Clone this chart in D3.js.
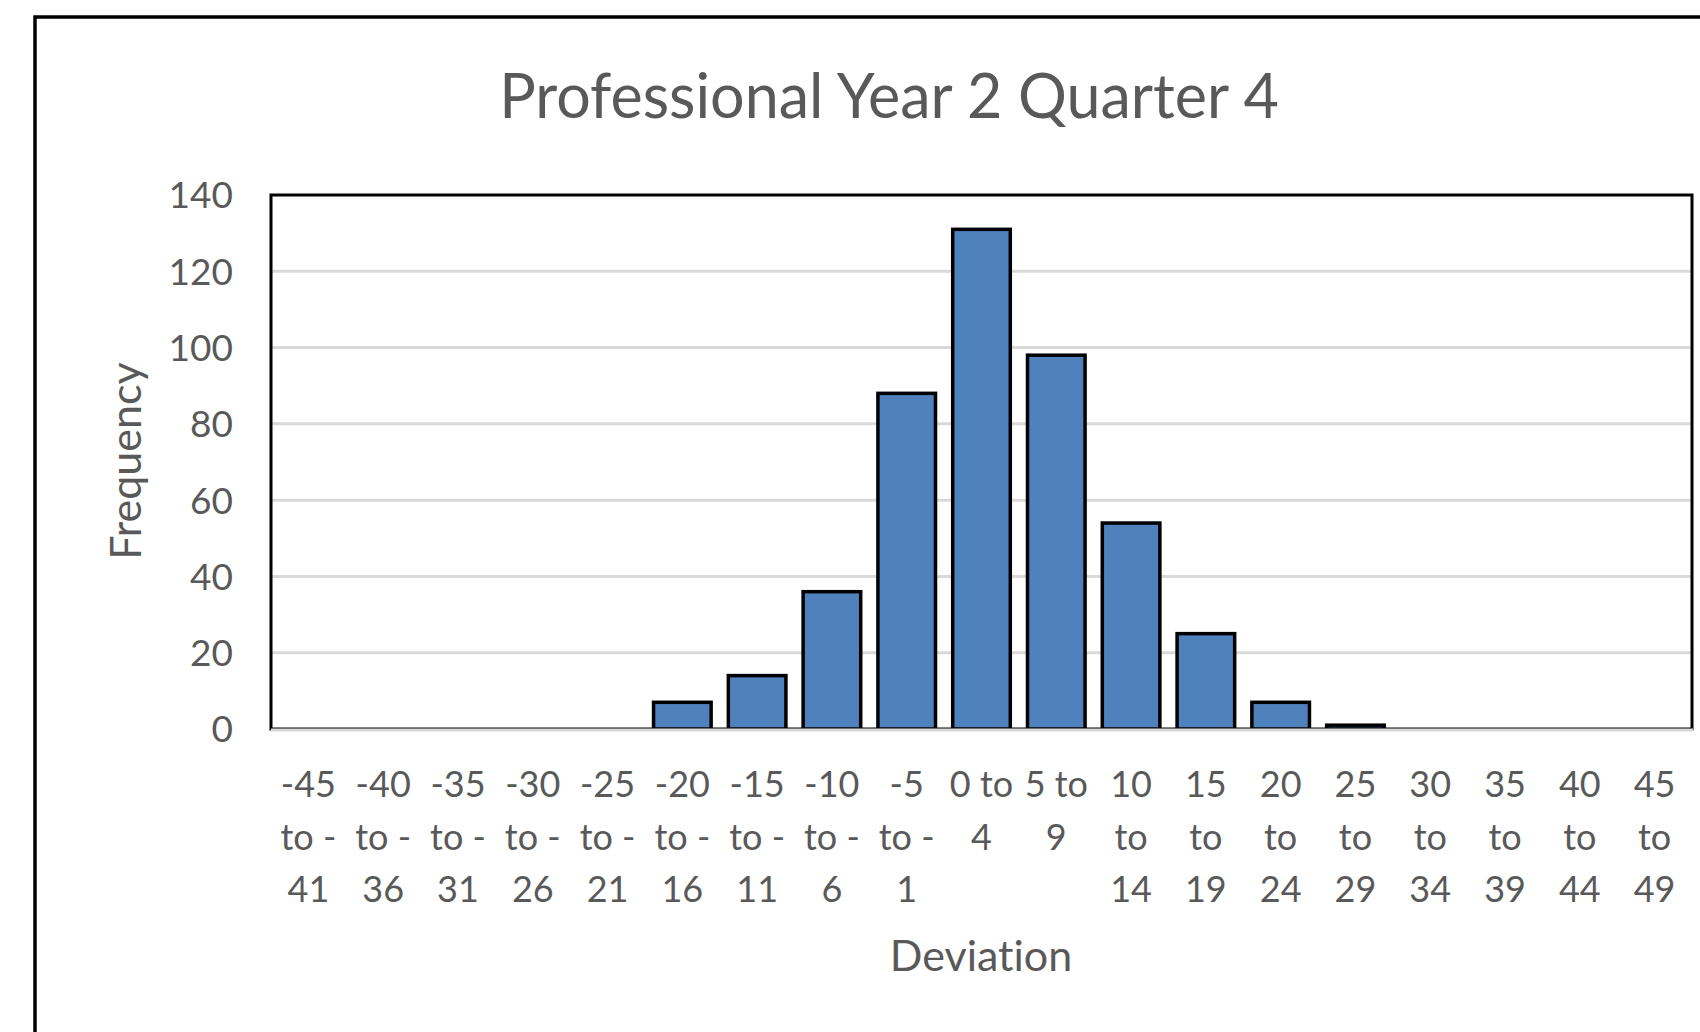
<!DOCTYPE html>
<html><head><meta charset="utf-8">
<script src="https://cdn.jsdelivr.net/npm/d3@7"></script>
<style>
html,body{margin:0;padding:0;background:#fff;overflow:hidden;}
svg{display:block;}
text{font-family:Lato,"Open Sans",sans-serif;fill:#595959;font-variant-ligatures:none;font-feature-settings:"liga" 0;}
</style></head>
<body>
<svg id="chart" width="1700" height="1032"></svg>
<script>
const categories = [
  ["-45","to -","41"],["-40","to -","36"],["-35","to -","31"],["-30","to -","26"],
  ["-25","to -","21"],["-20","to -","16"],["-15","to -","11"],["-10","to -","6"],
  ["-5","to -","1"],["0 to","4"],["5 to","9"],["10","to","14"],["15","to","19"],
  ["20","to","24"],["25","to","29"],["30","to","34"],["35","to","39"],["40","to","44"],["45","to","49"]
];
const frequency = [0,0,0,0,0,7,14,36,88,131,98,54,25,7,1,0,0,0,0];
const yTicks = [0,20,40,60,80,100,120,140];
const title = "Professional Year 2 Quarter 4";
const xTitle = "Deviation";
const yTitle = "Frequency";

const svg = d3.select("#chart");
const plot = {left:271, right:1692, top:195, bottom:729};

// outer chart border
svg.append("rect").attr("x",35).attr("y",17).attr("width",1700).attr("height",1100)
  .attr("fill","#fff").attr("stroke","#000").attr("stroke-width",3.5);

const keys = categories.map(c => c.join(" "));
const x = d3.scaleBand().domain(keys).range([plot.left, plot.right]).paddingInner(0.19).paddingOuter(0.095);
const y = d3.scaleLinear().domain([0,140]).range([plot.bottom, plot.top]);

// gridlines
svg.append("g").selectAll("line").data(yTicks.filter(t => t>0 && t<140)).join("line")
  .attr("x1",plot.left).attr("x2",plot.right)
  .attr("y1",d=>y(d)).attr("y2",d=>y(d))
  .attr("stroke","#D9D9D9").attr("stroke-width",3);

// plot area border
svg.append("rect").attr("x",plot.left).attr("y",plot.top)
  .attr("width",plot.right-plot.left).attr("height",plot.bottom-plot.top)
  .attr("fill","none").attr("stroke","#000").attr("stroke-width",3);

// bars
const barData = frequency.map((v,i)=>({k:keys[i],v})).filter(d=>d.v>0);
svg.append("g").selectAll("rect").data(barData).join("rect")
  .attr("x",d=>x(d.k)+1.5).attr("width",x.bandwidth()-3)
  .attr("y",d=>y(d.v)).attr("height",d=>y(0)-y(d.v))
  .attr("fill","#4F81BD").attr("stroke","#000").attr("stroke-width",3.5);

// x axis line (grey)
svg.append("line").attr("x1",plot.left).attr("x2",plot.right+1)
  .attr("y1",y(0)+1).attr("y2",y(0)+1).attr("stroke","#D9D9D9").attr("stroke-width",3);

// y axis
const yAxis = d3.axisLeft(y).tickValues(yTicks).tickSize(0).tickPadding(0);
const yg = svg.append("g").attr("transform",`translate(${233},0)`).call(yAxis);
yg.select(".domain").remove();
yg.selectAll("text").attr("font-size",37).attr("fill","#595959").attr("dy","0.35em")
  .style("font-family","Lato, 'Open Sans', sans-serif");

// x axis labels (multi-line)
const xAxis = d3.axisBottom(x).tickSize(0).tickFormat("");
const xg = svg.append("g").attr("transform",`translate(0,${plot.bottom})`).call(xAxis);
xg.select(".domain").remove();
xg.selectAll(".tick").each(function(d,i){
  const t = d3.select(this).append("text").attr("text-anchor","middle")
    .attr("font-size",36).attr("fill","#595959")
    .style("font-family","Lato, 'Open Sans', sans-serif");
  categories[i].forEach((line,j)=>{
    t.append("tspan").attr("x",0).attr("y",68 + j*52.6).text(line);
  });
});

// titles
svg.append("text").attr("x",889).attr("y",118).attr("text-anchor","middle")
  .attr("font-size",61).text(title);
svg.append("text").attr("x",981).attr("y",971).attr("text-anchor","middle")
  .attr("font-size",43).text(xTitle);
svg.append("text").attr("transform","translate(141,461) rotate(-90)").attr("text-anchor","middle")
  .attr("font-size",43).text(yTitle);
</script>
</body></html>
